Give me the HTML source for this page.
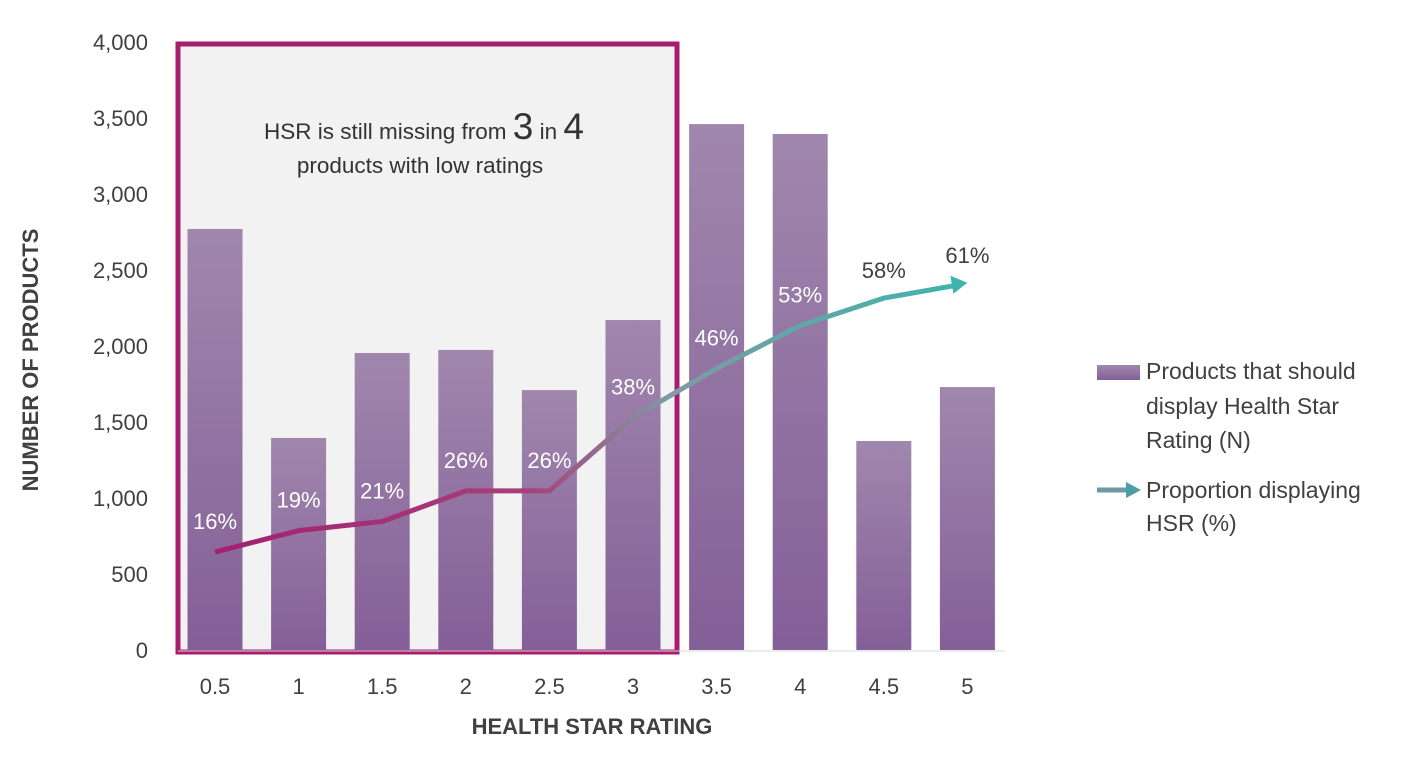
<!DOCTYPE html>
<html><head><meta charset="utf-8"><style>
body{margin:0;background:#fff;font-family:"Liberation Sans",Arial,sans-serif;}
svg text{font-family:"Liberation Sans",Arial,sans-serif;}
</style></head><body>
<svg id="chart" width="1410" height="755" xmlns="http://www.w3.org/2000/svg">
<defs>
<linearGradient id="barGrad" x1="0" y1="0" x2="0" y2="1"><stop offset="0" stop-color="#a087ad"/><stop offset="1" stop-color="#845f98"/></linearGradient>
<linearGradient id="lineGrad" gradientUnits="userSpaceOnUse" x1="215" y1="0" x2="967" y2="0"><stop offset="0" stop-color="#a3206f"/><stop offset="0.42" stop-color="#a8407a"/><stop offset="0.6" stop-color="#7f9aa4"/><stop offset="1" stop-color="#3db5ad"/></linearGradient>
</defs>
<rect x="178" y="44" width="499" height="608" fill="#f2f2f2" stroke="#a51d6f" stroke-width="5"/>
<g id="yticks"></g><g id="bars"></g><g id="xticks"></g>
<line x1="178" y1="651" x2="1005" y2="651" stroke="#d9d9d9" stroke-width="1"/>
<g id="line"></g>
<text x="424" y="139" text-anchor="middle" font-size="22.5" fill="#333">HSR is still missing from <tspan font-size="37">3</tspan> in <tspan font-size="37">4</tspan></text>
<text x="420" y="173" text-anchor="middle" font-size="22.5" fill="#333">products with low ratings</text>
<text transform="translate(38,360) rotate(-90)" text-anchor="middle" font-size="22" font-weight="bold" fill="#404040">NUMBER OF PRODUCTS</text>
<text x="592" y="734" text-anchor="middle" font-size="22" font-weight="bold" fill="#404040">HEALTH STAR RATING</text>
<g>
<rect x="1097" y="365" width="43" height="15" fill="url(#barGrad)"/>
<text x="1146" y="379" font-size="23" fill="#404040">Products that should</text>
<text x="1146" y="414" font-size="23" fill="#404040">display Health Star</text>
<text x="1146" y="448" font-size="23" fill="#404040">Rating (N)</text>
<line x1="1097" y1="490" x2="1128" y2="490" stroke="#6f98a2" stroke-width="5"/>
<polygon points="1126,482 1141,490 1126,498" fill="#4a9fa6"/>
<text x="1146" y="498" font-size="23" fill="#404040">Proportion displaying</text>
<text x="1146" y="531" font-size="23" fill="#404040">HSR (%)</text>
</g>
</svg>
<script>
const categories=["0.5","1","1.5","2","2.5","3","3.5","4","4.5","5"];
const barValues=[2770,1395,1954,1974,1710,2171,3460,3395,1375,1730];
const pctValues=[16,19,21,26,26,38,46,53,58,61];
const linePct=[16,19.5,21,26,26,38,46,53,57.5,60];
const yTicks=[0,500,1000,1500,2000,2500,3000,3500,4000];
const NS="http://www.w3.org/2000/svg";
const y=v=>650-v*0.152;
const yp=p=>650-p*6.12;
const x=i=>215+i*83.6;
function mk(t,a,p){const e=document.createElementNS(NS,t);for(const k in a)e.setAttribute(k,a[k]);p.appendChild(e);return e;}
const gy=document.getElementById('yticks'),gb=document.getElementById('bars'),gx=document.getElementById('xticks'),gl=document.getElementById('line');
yTicks.forEach(v=>{const t=mk('text',{x:148,y:y(v)+8,'text-anchor':'end','font-size':22,fill:'#404040'},gy);t.textContent=v.toLocaleString('en-US');

});
categories.forEach((c,i)=>{
const r=mk('rect',{x:x(i)-27.5,y:y(barValues[i]),width:55,height:y(0)-y(barValues[i]),fill:'url(#barGrad)'},gb);


const t=mk('text',{x:x(i),y:694,'text-anchor':'middle','font-size':22,fill:'#404040'},gx);t.textContent=c;


});
const pts=linePct.map((p,i)=>[x(i),yp(p)]);
const last=pts[pts.length-1];
const pl=mk('polyline',{points:pts.map((p,i)=>i==pts.length-1?[p[0]-14,p[1]+3]:p).join(' '),fill:'none',stroke:'url(#lineGrad)','stroke-width':5,'stroke-linejoin':'round'},gl);


const ar=mk('polygon',{points:`${last[0]},${last[1]} ${last[0]-17},${last[1]-7} ${last[0]-14},${last[1]+11}`,fill:'#3db5ad'},gl);


pctValues.forEach((p,i)=>{
const dark=i>=8;
const t=mk('text',{x:x(i),y:dark?yp(linePct[i])-20:yp(linePct[i])-23,'text-anchor':'middle','font-size':22,fill:dark?'#404040':'#fff'},gl);
t.textContent=p+'%';


});
</script>
</body></html>
